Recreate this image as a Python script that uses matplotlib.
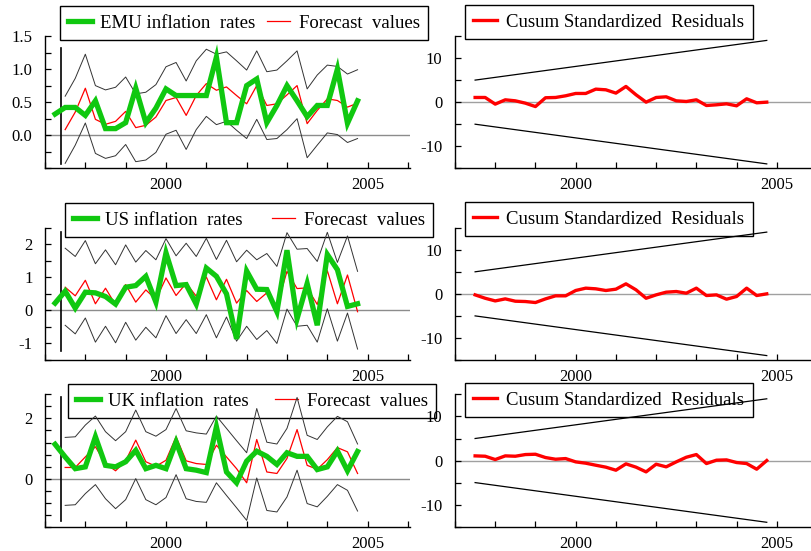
import numpy as np
import matplotlib.pyplot as plt
from matplotlib.ticker import MultipleLocator, FixedLocator, FormatStrFormatter

plt.rcParams['font.family'] = ['Liberation Serif', 'DejaVu Serif']
plt.rcParams['axes.unicode_minus'] = False

# quarterly observations 1997Q2 .. 2004Q4
quarters = np.arange(1997.25, 2004.76, 0.25)

# EMU
emu_actual = [0.32, 0.42, 0.42, 0.30, 0.52, 0.10, 0.10, 0.19, 0.71, 0.19, 0.41, 0.70, 0.60, 0.60, 0.60, 0.60,
              1.18, 0.19, 0.19, 0.75, 0.85, 0.19, 0.45, 0.75, 0.52, 0.28, 0.45, 0.45, 1.00, 0.18, 0.52]
emu_fcst = [0.085, 0.35, 0.71, 0.24, 0.165, 0.21, 0.36, 0.115, 0.15, 0.275, 0.525, 0.57, 0.30, 0.60, 0.78,
            0.68, 0.73, 0.60, 0.475, 0.75, 0.45, 0.475, 0.61, 0.75, 0.175, 0.375, 0.55, 0.525, 0.425, 0.485]
emu_upper = [0.59, 0.86, 1.225, 0.75, 0.685, 0.725, 0.88, 0.625, 0.65, 0.765, 1.035, 1.10, 0.82, 1.125, 1.30,
             1.225, 1.26, 1.125, 0.985, 1.275, 0.96, 0.985, 1.125, 1.275, 0.70, 0.91, 1.06, 1.04, 0.925, 0.99]
emu_lower = [-0.425, -0.15, 0.185, -0.275, -0.35, -0.31, -0.14, -0.40, -0.375, -0.26, 0.015, 0.075, -0.215,
             0.085, 0.285, 0.16, 0.21, 0.075, -0.05, 0.24, -0.065, -0.05, 0.085, 0.25, -0.34, -0.15, 0.035,
             0.01, -0.11, -0.05]
emu_cusum = [1.06, 1.06, -0.45, 0.53, 0.30, -0.23, -1.00, 1.00, 1.06, 1.44, 1.97, 1.97, 2.95, 2.80, 2.05,
             3.56, 1.67, 0.00, 1.06, 1.21, 0.30, 0.15, 0.53, -0.76, -0.60, -0.38, -0.83, 0.76, -0.15, 0.00]

# US
us_actual = [0.22, 0.58, 0.07, 0.55, 0.53, 0.42, 0.19, 0.70, 0.75, 1.03, 0.25, 1.74, 0.75, 0.78, 0.19, 1.28,
             1.03, 0.50, -0.86, 1.19, 0.64, 0.63, -0.04, 1.82, -0.25, 0.81, -0.45, 1.69, 1.23, 0.12, 0.20]
us_fcst = [0.70, 0.44, 0.91, 0.20, 0.67, 0.17, 0.78, 0.25, 0.62, 0.33, 0.98, 0.45, 0.82, 0.43, 1.01,
           0.32, 0.94, 0.22, 0.60, 0.27, 0.53, 0.14, 1.18, 0.66, 0.68, 0.18, 1.20, 0.20, 1.07, -0.04]
us_upper = [1.88, 1.63, 2.11, 1.41, 1.83, 1.38, 1.98, 1.46, 1.81, 1.53, 2.17, 1.65, 2.03, 1.63, 2.18,
            1.54, 2.12, 1.47, 1.82, 1.53, 1.72, 1.33, 2.35, 1.85, 1.87, 1.48, 2.36, 1.45, 2.25, 1.18]
us_lower = [-0.45, -0.71, -0.23, -0.96, -0.48, -0.98, -0.36, -0.90, -0.51, -0.83, -0.16, -0.70, -0.28, -0.70,
            -0.13, -0.83, -0.20, -0.93, -0.48, -0.88, -0.61, -1.00, 0.04, -0.48, -0.45, -0.96, 0.05, -0.93,
            -0.08, -1.17]
us_cusum = [-0.23, -1.00, -1.60, -1.14, -1.67, -1.74, -1.97, -1.14, -0.45, -0.45, 0.76, 1.29, 1.14, 0.76, 1.06,
            2.27, 0.91, -1.00, -0.23, 0.38, 0.53, 0.15, 1.29, -0.38, -0.23, -1.21, -0.60, 1.29, -0.38, 0.00]

# UK
uk_actual = [1.14, 0.72, 0.33, 0.39, 1.39, 0.44, 0.39, 0.56, 0.94, 0.33, 0.44, 0.33, 1.22, 0.33, 0.28, 0.20,
             1.72, 0.22, -0.14, 0.58, 0.91, 0.74, 0.47, 0.86, 0.74, 0.74, 0.30, 0.39, 0.92, 0.26, 0.90]
uk_fcst = [0.37, 0.37, 0.72, 1.06, 0.50, 0.26, 0.59, 1.28, 0.56, 0.41, 0.61, 1.39, 0.59, 0.50, 0.47,
           1.11, 0.72, 0.33, -0.14, 1.30, 0.22, 0.17, 0.67, 1.63, 0.44, 0.31, 0.63, 1.03, 0.89, 0.17]
uk_upper = [1.37, 1.39, 1.78, 2.08, 1.56, 1.26, 1.56, 2.28, 1.56, 1.41, 1.63, 2.33, 1.59, 1.52, 1.48,
            2.08, 1.67, 1.26, 0.86, 2.33, 1.21, 1.15, 1.67, 2.70, 1.44, 1.30, 1.72, 2.07, 1.89, 1.15]
uk_lower = [-0.89, -0.87, -0.50, -0.20, -0.67, -1.00, -0.70, 0.00, -0.70, -0.87, -0.63, 0.13, -0.67, -0.76,
            -0.79, -0.14, -0.56, -0.97, -1.39, 0.02, -1.06, -1.11, -0.61, 0.28, -0.83, -0.94, -0.59, -0.20,
            -0.39, -1.08]
uk_cusum = [1.06, 0.98, 0.23, 1.06, 0.98, 1.36, 1.43, 0.68, 0.30, 0.45, -0.30, -0.60, -1.06, -1.50, -2.19,
            -0.75, -1.50, -2.57, -0.83, -1.43, -0.30, 0.75, 1.36, -0.68, 0.08, 0.15, -0.45, -0.68, -1.96, 0.00]

# 5% cusum bounds at first and last recursive observation
cusum_bound = [5.0, 14.0]
forecast_start = 1997.4

# labelled y ticks of each left panel
emu_yticks = [0.0, 0.5, 1.0, 1.5]
us_yticks = [-1, 0, 1, 2]
uk_yticks = [0, 2]

rows = [
    ('EMU inflation  rates', emu_actual, emu_fcst, emu_upper, emu_lower, emu_cusum,
     (-0.5, 1.5), emu_yticks, 0.25, '%.1f', 60, (0.035, 0.91)),
    ('US inflation  rates', us_actual, us_fcst, us_upper, us_lower, us_cusum,
     (-1.5, 2.5), us_yticks, 0.5, '%d', 65, (0.07, 0.97)),
    ('UK inflation  rates', uk_actual, uk_fcst, uk_upper, uk_lower, uk_cusum,
     (-1.6, 2.8), uk_yticks, 0.4, '%d', 68, (0.043, 0.98)),
]

W, H = 811, 551
fig = plt.figure(figsize=(W / 100, H / 100), dpi=100)

row_bottoms = [168.3, 360.0, 526.7]
legend_tops = [6, 203, 384]
green = '#10c810'


def style(ax):
    for s in ['top', 'right']:
        ax.spines[s].set_visible(False)
    for s in ['left', 'bottom']:
        ax.spines[s].set_linewidth(1.0)
    ax.tick_params(which='both', direction='in', length=4, width=0.9, labelsize=12, pad=9)
    ax.tick_params(axis='x', pad=6.5)
    ax.xaxis.set_major_locator(MultipleLocator(5))
    ax.xaxis.set_minor_locator(MultipleLocator(1))
    ax.xaxis.set_major_formatter(FormatStrFormatter('%d'))


for i, (name, act, fc, up, lo, cs, ylim, yticks, minor, fmt, leg_x, vspan) in enumerate(rows):
    bottom = 1 - row_bottoms[i] / H
    height = 132.3 / H

    # left: actual vs forecast with error bands
    ax = fig.add_axes([45 / W, bottom, 365 / W, height])
    ax.axhline(0, color='#8c8c8c', lw=1.0, zorder=1.5)
    ax.axvline(forecast_start, ymin=vspan[0], ymax=vspan[1], color='black', lw=1.2)
    ax.plot(quarters[1:], up, color='#333333', lw=0.7)
    ax.plot(quarters[1:], lo, color='#333333', lw=0.7)
    ax.plot(quarters[1:], fc, color='red', lw=0.9, label='Forecast  values')
    ax.plot(quarters, act, color=green, lw=3.8, solid_joinstyle='miter', label=name)
    ax.set_xlim(1997.0, 2006.05)
    ax.set_ylim(*ylim)
    ax.yaxis.set_major_locator(FixedLocator(yticks))
    ax.yaxis.set_minor_locator(MultipleLocator(minor))
    ax.yaxis.set_major_formatter(FormatStrFormatter(fmt))
    style(ax)
    h, l = ax.get_legend_handles_labels()
    leg = ax.legend(h[::-1], l[::-1], ncol=2, loc='upper left',
                    bbox_to_anchor=(leg_x / W, 1 - (legend_tops[i] + 31) / H, 368 / W, 31 / H),
                    bbox_transform=fig.transFigure, mode='expand', borderaxespad=0,
                    fancybox=False, edgecolor='black', framealpha=1, fontsize=13.5,
                    handlelength=1.25, handletextpad=0.45, borderpad=0.45)
    leg.get_frame().set_linewidth(1.0)
    leg.set_zorder(1)

    # right: cusum of standardized residuals
    ax2 = fig.add_axes([455 / W, bottom, 356 / W, height])
    ax2.axhline(0, color='#a0a0a0', lw=1.0, zorder=1.5)
    ends = [quarters[1], quarters[-1]]
    ax2.plot(ends, cusum_bound, color='black', lw=0.9)
    ax2.plot(ends, [-b for b in cusum_bound], color='black', lw=0.9)
    ax2.plot(quarters[1:], cs, color='red', lw=2.4, label='Cusum Standardized  Residuals')
    ax2.set_xlim(1997.0, 2005.85)
    ax2.set_ylim(-15, 15)
    ax2.yaxis.set_major_locator(FixedLocator([-10, 0, 10]))
    ax2.yaxis.set_minor_locator(MultipleLocator(5))
    ax2.yaxis.set_major_formatter(FormatStrFormatter('%d'))
    style(ax2)
    leg2 = ax2.legend(loc='upper left', bbox_to_anchor=(465 / W, 1 - (legend_tops[i] - 1) / H),
                      bbox_transform=fig.transFigure, borderaxespad=0,
                      fancybox=False, edgecolor='black', framealpha=1, fontsize=13.5,
                      handlelength=1.25, handletextpad=0.5, borderpad=0.45)
    leg2.get_frame().set_linewidth(1.0)
    leg2.set_zorder(1)

fig.savefig('out.png', dpi=100)
